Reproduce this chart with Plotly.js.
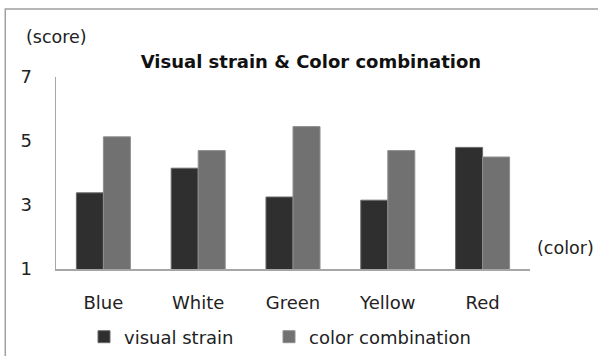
<!DOCTYPE html>
<html>
<head>
<meta charset="utf-8">
<script src="https://cdn.plot.ly/plotly-3.0.1.min.js"></script>
<style>
  html, body { margin: 0; padding: 0; background: #fff; }
  #chart { width: 598px; height: 356px; }
</style>
</head>
<body>
<div id="chart"></div>
<script>
// Colour categories on the x axis
const colors = ['Blue', 'White', 'Green', 'Yellow', 'Red'];
// Mean scores per colour
const visualStrain = [3.38, 4.15, 3.25, 3.15, 4.8];
const colorCombination = [5.13, 4.7, 5.45, 4.7, 4.5];
// Score axis ticks
const scoreTicks = [1, 3, 5, 7];

const FONT = 'DejaVu Sans, sans-serif';

const traces = [
  {
    type: 'bar',
    name: 'visual strain',
    x: colors,
    y: visualStrain,
    legend: 'legend',
    marker: { color: '#2f2f2f', line: { color: '#6a6a6a', width: 1 } }
  },
  {
    type: 'bar',
    name: 'color combination',
    x: colors,
    y: colorCombination,
    legend: 'legend2',
    marker: { color: '#717171', line: { color: '#8f8f8f', width: 1 } }
  }
];

// one legend box per series, laid out side by side under the chart
function legendAt(px) {
  return {
    orientation: 'h',
    xref: 'container', yref: 'container',
    x: px / 598, xanchor: 'left',
    y: (356 - 337) / 356, yanchor: 'middle',
    font: { family: FONT, size: 18, color: '#222' },
    itemwidth: 30,
    bgcolor: 'rgba(0,0,0,0)'
  };
}

const layout = {
  width: 598,
  height: 356,
  margin: { l: 56, r: 68, t: 77, b: 87 },
  paper_bgcolor: '#ffffff',
  plot_bgcolor: '#ffffff',
  barmode: 'group',
  bargap: 0.43,
  bargroupgap: 0,
  showlegend: true,
  font: { family: FONT, color: '#222', size: 16 },
  title: {
    text: '<b>Visual strain &amp; Color combination</b>',
    font: { family: FONT, size: 18, color: '#111' },
    xref: 'container', yref: 'container',
    x: 0.52, xanchor: 'center',
    y: 1 - 62 / 356, yanchor: 'middle'
  },
  xaxis: {
    type: 'category',
    showgrid: false,
    showline: true,
    linecolor: '#a6a6a6',
    linewidth: 1.5,
    ticks: '',
    ticklabelstandoff: 17,
    tickfont: { family: FONT, size: 18, color: '#222' },
    zeroline: false
  },
  yaxis: {
    range: [1, 7],
    tickvals: scoreTicks,
    ticktext: scoreTicks.map(String),
    showgrid: false,
    showline: true,
    linecolor: '#a6a6a6',
    linewidth: 1.5,
    ticks: '',
    ticklabelstandoff: 19,
    tickfont: { family: FONT, size: 18, color: '#222' },
    zeroline: false
  },
  legend: legendAt(84),
  legend2: legendAt(269),
  annotations: [
    { text: '(score)', xref: 'paper', yref: 'paper', x: 0.002, y: 1.207,
      xanchor: 'center', yanchor: 'middle', showarrow: false,
      font: { family: FONT, size: 17.5, color: '#222' } },
    { text: '(color)', xref: 'paper', yref: 'paper', x: 1.01, y: 0.11,
      xanchor: 'left', yanchor: 'middle', showarrow: false,
      font: { family: FONT, size: 17.5, color: '#222' } }
  ],
  shapes: [
    // chart frame
    { type: 'rect', xref: 'paper', yref: 'paper',
      x0: -0.107, x1: 1.2, y0: -0.6, y1: 1.354,
      line: { color: '#a0a0a0', width: 1.5 }, fillcolor: 'rgba(0,0,0,0)', layer: 'below' }
  ]
};

Plotly.newPlot('chart', traces, layout, { staticPlot: true, displayModeBar: false });
</script>
</body>
</html>
